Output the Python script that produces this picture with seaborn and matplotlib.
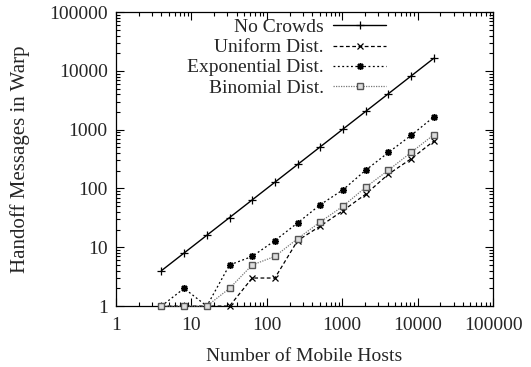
import numpy as np
import pandas as pd
import matplotlib
matplotlib.use("Agg")
import matplotlib.pyplot as plt
import seaborn as sns
from matplotlib.ticker import LogLocator, FixedLocator, NullFormatter

hosts = [4, 8, 16, 32, 64, 128, 256, 512, 1024, 2048, 4096, 8192, 16384]
no_crowds = [4, 8, 16, 32, 64, 128, 256, 512, 1024, 2048, 4096, 8192, 16384]
uniform = [1, 1, 1, 1, 3, 3, 13, 23, 42, 80, 175, 320, 640]
exponential = [1, 2, 1, 5, 7, 13, 26, 53, 95, 205, 410, 800, 1650]
binomial = [1, 1, 1, 2, 5, 7, 14, 27, 50, 105, 205, 410, 820]
series_names = ["No Crowds", "Uniform Dist.", "Exponential Dist.", "Binomial Dist."]
tick_values = [1, 10, 100, 1000, 10000, 100000]
tick_labels = ["1", "10", "100", "1000", "10000", "100000"]

sns.set_style("ticks")
plt.rcParams["font.family"] = ["Liberation Serif", "DejaVu Serif"]
plt.rcParams["font.size"] = 14

fig = plt.figure(figsize=(5.31, 3.67), dpi=100)
ax = fig.add_axes([0.2185, 0.166, 0.71, 0.801])

styles = [
    dict(color="black", linestyle="-", marker="+", markersize=6, mew=0.9, lw=1.0, mec="black"),
    dict(color="black", linestyle=(0, (3, 2)), marker="x", markersize=5, mew=0.9, lw=0.9, mec="black"),
    dict(color="black", linestyle=(0, (1.5, 2)), marker=(8, 2, 0), markersize=5, mew=1.1, lw=0.9,
         mec="black"),
    dict(color="#777777", linestyle=(0, (1, 1)), marker="s", markersize=5, mew=1.0, lw=0.9,
         mfc="#dddddd", mec="#555555"),
]

for name, vals, st in zip(series_names, [no_crowds, uniform, exponential, binomial], styles):
    df = pd.DataFrame({"hosts": hosts, "msgs": vals})
    sns.lineplot(data=df, x="hosts", y="msgs", ax=ax, label=name, clip_on=False, zorder=3, **st)

ax.set_xscale("log")
ax.set_yscale("log")
ax.set_xlim(1, 100000)
ax.set_ylim(1, 100000)
ax.xaxis.set_major_locator(FixedLocator(tick_values))
ax.yaxis.set_major_locator(FixedLocator(tick_values))
ax.set_xticklabels(tick_labels)
ax.set_yticklabels(tick_labels)
ax.xaxis.set_minor_locator(LogLocator(base=10, subs=np.arange(2, 10)))
ax.yaxis.set_minor_locator(LogLocator(base=10, subs=np.arange(2, 10)))
ax.xaxis.set_minor_formatter(NullFormatter())
ax.yaxis.set_minor_formatter(NullFormatter())
ax.tick_params(which="both", direction="in", top=True, right=True, width=0.8, labelsize=14, color="black")
ax.tick_params(which="major", length=6)
ax.tick_params(axis="x", which="major", pad=8)
ax.tick_params(axis="y", which="major", pad=6)
ax.tick_params(which="minor", length=3)
for s in ax.spines.values():
    s.set_linewidth(0.9)
    s.set_color("black")

ax.set_xlabel("Number of Mobile Hosts", fontsize=14, labelpad=10)
ax.set_ylabel("Handoff Messages in Warp", fontsize=15, labelpad=14)

leg = ax.legend(loc="upper right", bbox_to_anchor=(0.716, 0.978), frameon=False,
                markerfirst=False, borderpad=0, borderaxespad=0, labelspacing=0.13,
                handlelength=2.7, handletextpad=0.5, fontsize=14)

fig.savefig("out.png", dpi=100)
